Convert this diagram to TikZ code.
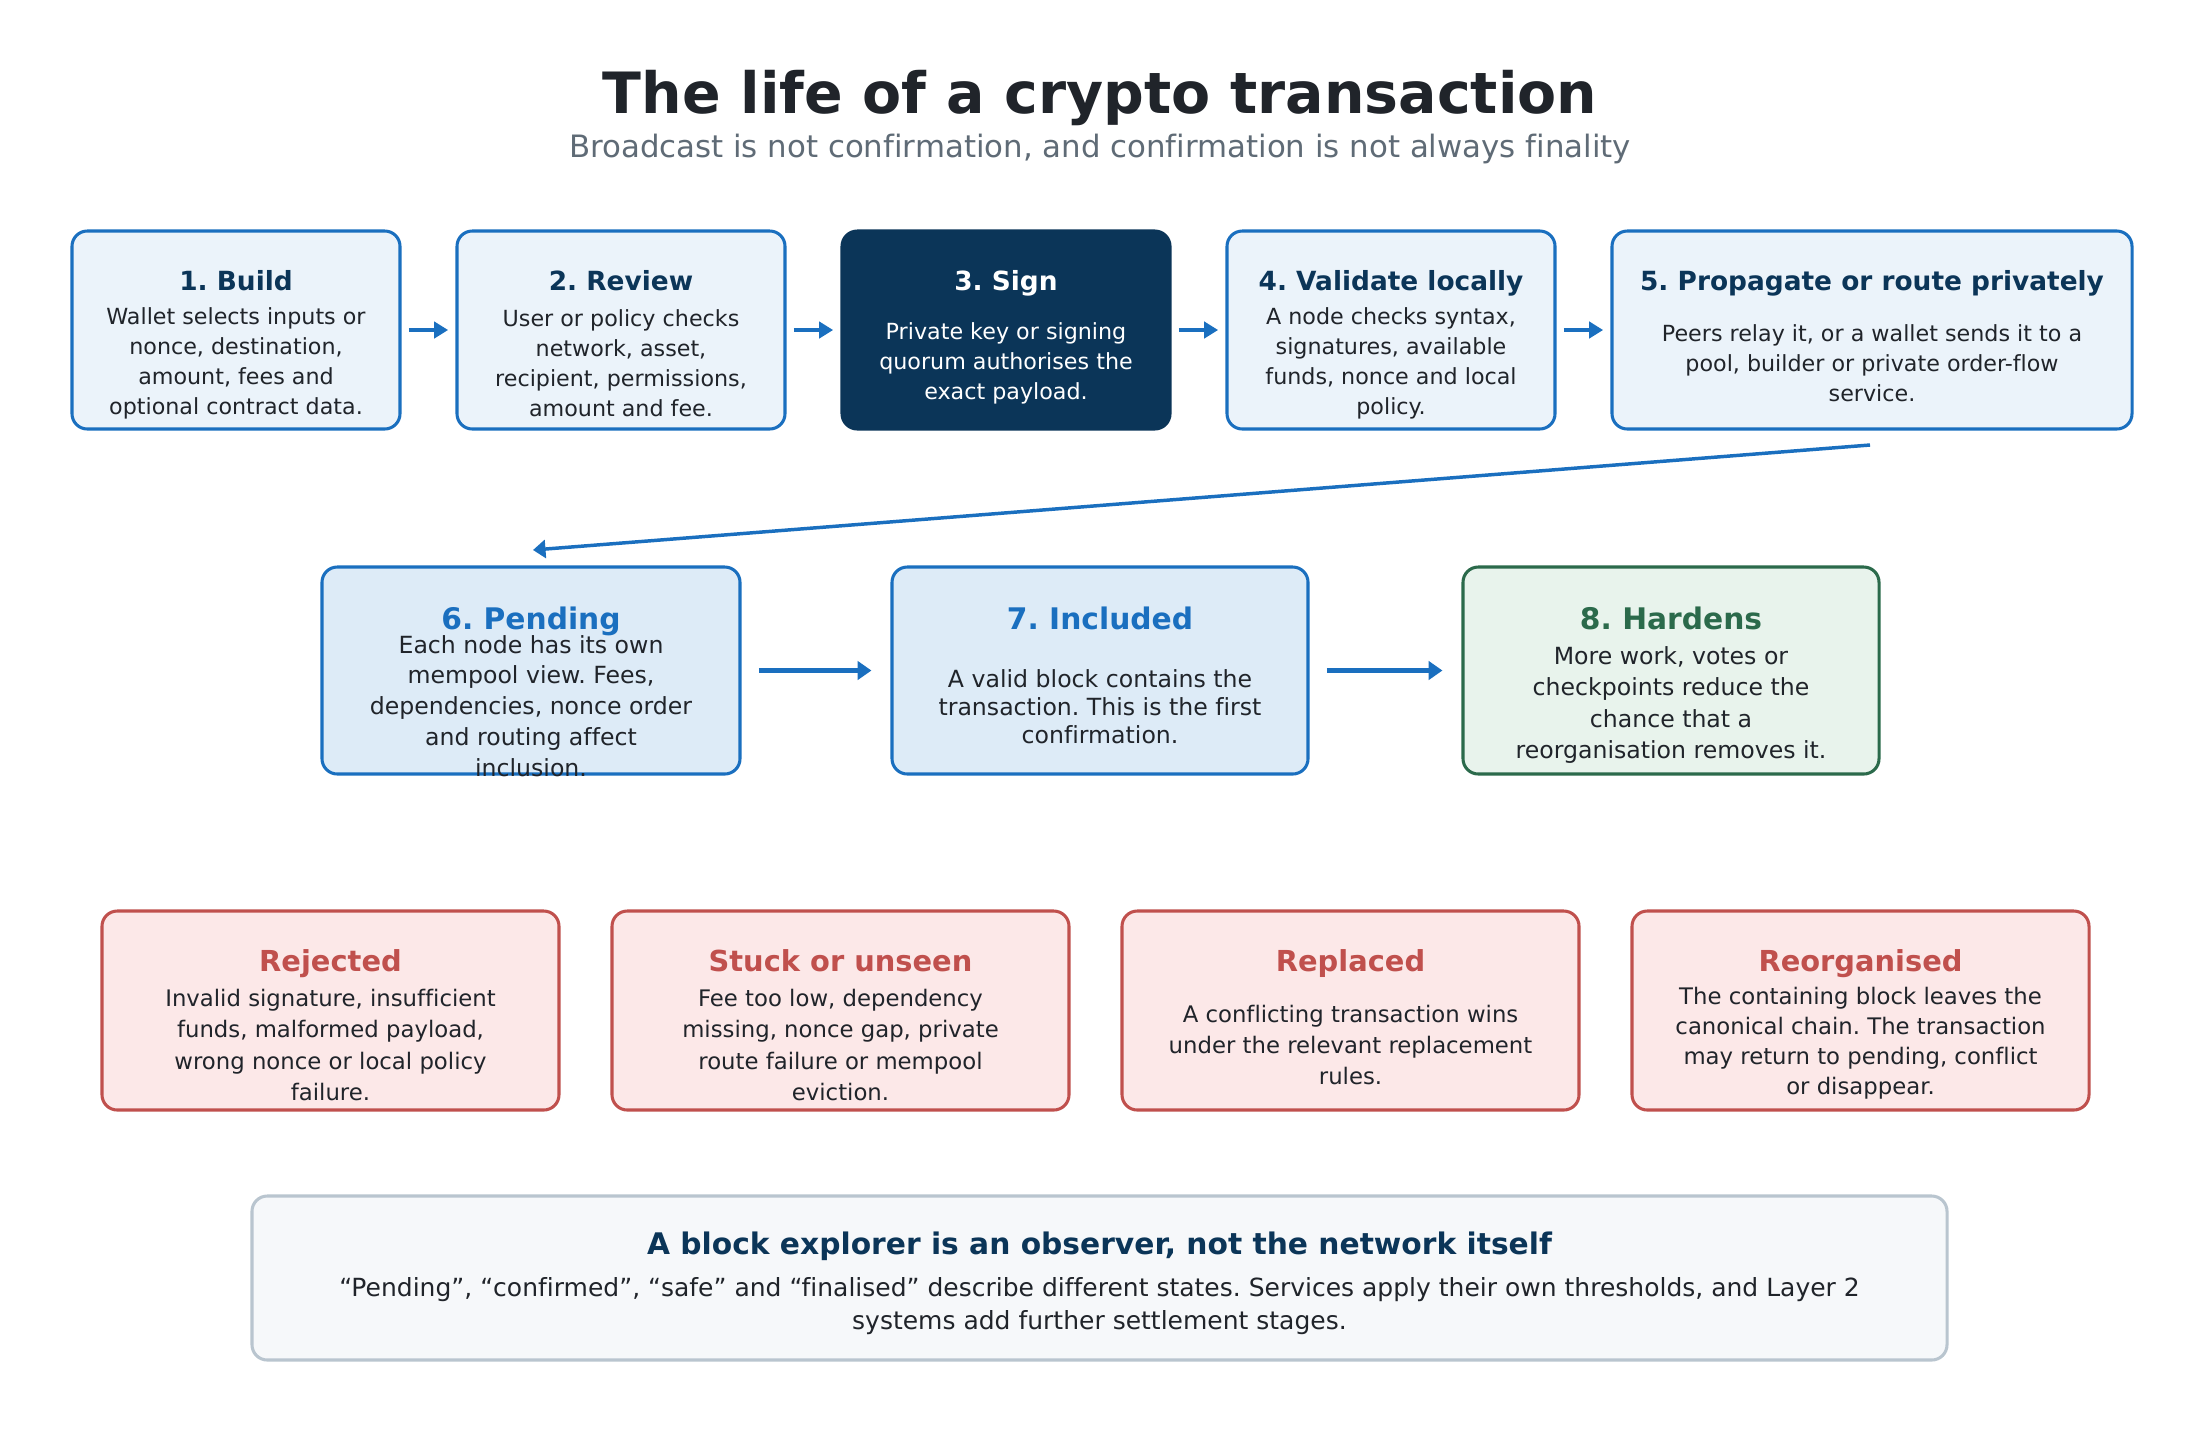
\documentclass[tikz,border=0pt]{standalone}
\usepackage{fontspec}
\setmainfont{DejaVu Sans}[Ligatures=NoCommon]
\usetikzlibrary{arrows.meta,calc}
\definecolor{navy}{HTML}{0B3558}
\definecolor{blueln}{HTML}{1A6FBF}
\definecolor{fillA}{HTML}{EBF3FA}
\definecolor{fillB}{HTML}{DDEBF7}
\definecolor{greenln}{HTML}{2B6A4B}
\definecolor{fillG}{HTML}{E8F3EC}
\definecolor{redln}{HTML}{C0504D}
\definecolor{fillR}{HTML}{FCE8E8}
\definecolor{fillN}{HTML}{F6F8FA}
\definecolor{greyln}{HTML}{B9C5CF}
\definecolor{ink}{HTML}{20242A}
\definecolor{subink}{HTML}{5F6B76}
\frenchspacing
\begin{document}
\frenchspacing
\begin{tikzpicture}[x=0.36pt,y=-0.36pt,
  pxsize/.style 2 args={minimum width=#1*0.36pt, minimum height=#2*0.36pt},
  boxbase/.style={rectangle, rounded corners=5.5pt, line width=1.1pt, inner sep=0pt, outer sep=0pt},
  stageA/.style={boxbase, draw=blueln, fill=fillA},
  stageS/.style={boxbase, draw=navy, fill=navy},
  stageB/.style={boxbase, draw=blueln, fill=fillB},
  stageG/.style={boxbase, draw=greenln, fill=fillG},
  failbox/.style={boxbase, draw=redln, fill=fillR},
  notebox/.style={boxbase, draw=greyln, fill=fillN},
  ttlA/.style={anchor=base, text=navy, font=\fontsize{9.5pt}{11pt}\selectfont\bfseries\frenchspacing},
  ttlB/.style={anchor=base, text=blueln, font=\fontsize{10.7pt}{12pt}\selectfont\bfseries\frenchspacing},
  ttlR/.style={anchor=base, text=redln, font=\fontsize{10.4pt}{12pt}\selectfont\bfseries\frenchspacing},
  bodyA/.style={align=center, text=ink, inner sep=0pt, font=\fontsize{8pt}{10.8pt}\selectfont\frenchspacing},
  bodyB/.style={align=center, text=ink, inner sep=0pt, font=\fontsize{8.5pt}{11.1pt}\selectfont\frenchspacing},
  bodyR/.style={align=center, text=ink, inner sep=0pt, font=\fontsize{8.2pt}{11.3pt}\selectfont\frenchspacing},
  arrA/.style={draw=blueln, line width=1.45pt, -{Triangle[length=5pt,width=5.8pt]}},
  arrB/.style={draw=blueln, line width=1.65pt, -{Triangle[length=5pt,width=6.6pt]}},
  arrD/.style={draw=blueln, line width=1.25pt, -{Triangle[length=4.5pt,width=6.5pt]}}
]
\useasboundingbox[fill=white] (0,0) rectangle (2200,1430);

% title
\node[anchor=base, text=ink, font=\fontsize{20.5pt}{24pt}\selectfont\bfseries] (title) at (1100,113) {The life of a crypto transaction};
\node[anchor=base, text=subink, font=\fontsize{11.1pt}{13pt}\selectfont] (subtitle) at (1100,157) {Broadcast is not confirmation, and confirmation is not always finality};

% row 1
\node[stageA, pxsize={328}{198}] (b1) at (236,330) {};
\node[stageA, pxsize={328}{198}] (b2) at (621,330) {};
\node[stageS, pxsize={328}{198}] (b3) at (1006,330) {};
\node[stageA, pxsize={328}{198}] (b4) at (1391,330) {};
\node[stageA, pxsize={520}{198}] (b5) at (1872,330) {};

\node[ttlA] (t1) at (236,290.5) {1. Build};
\node[ttlA] (t2) at (621,290.5) {2. Review};
\node[ttlA, text=white] (t3) at (1006,290.5) {3. Sign};
\node[ttlA] (t4) at (1391,290.5) {4. Validate locally};
\node[ttlA] (t5) at (1872,290.5) {5. Propagate or route privately};

\node[bodyA] (x1) at (236,363) {Wallet selects inputs or\\nonce, destination,\\amount, fees and\\optional contract data.};
\node[bodyA] (x2) at (621,363) {User or policy checks\\network, asset,\\recipient, permissions,\\amount and fee.};
\node[bodyA, text=white] (x3) at (1006,363) {Private key or signing\\quorum authorises the\\exact payload.};
\node[bodyA] (x4) at (1391,363) {A node checks syntax,\\signatures, available\\funds, nonce and local\\policy.};
\node[bodyA] (x5) at (1872,363) {Peers relay it, or a wallet sends it to a\\pool, builder or private order-flow\\service.};

\draw[arrA, shorten <=3.2pt, shorten >=3.2pt] (b1.east) -- (b2.west);
\draw[arrA, shorten <=3.2pt, shorten >=3.2pt] (b2.east) -- (b3.west);
\draw[arrA, shorten <=3.2pt, shorten >=3.2pt] (b3.east) -- (b4.west);
\draw[arrA, shorten <=3.2pt, shorten >=3.2pt] (b4.east) -- (b5.west);

% row 2
\node[stageB, pxsize={418}{207}] (b6) at (531,670.5) {};
\node[stageB, pxsize={416}{207}] (b7) at (1100,670.5) {};
\node[stageG, pxsize={416}{207}] (b8) at (1671,670.5) {};

\node[ttlB] (t6) at (531,629) {6. Pending};
\node[ttlB] (t7) at (1100,629) {7. Included};
\node[ttlB, text=greenln] (t8) at (1671,629) {8. Hardens};

\node[bodyB] (x6) at (531,706) {Each node has its own\\mempool view. Fees,\\dependencies, nonce order\\and routing affect\\inclusion.};
\node[bodyB, font=\fontsize{8.5pt}{10.1pt}\selectfont\frenchspacing] (x7) at (1100,707) {A valid block contains the\\transaction. This is the first\\confirmation.};
\node[bodyB, font=\fontsize{8.5pt}{11.3pt}\selectfont\frenchspacing] (x8) at (1671,705) {More work, votes or\\checkpoints reduce the\\chance that a\\reorganisation removes it.};

\coordinate (d1) at ($(b5.south)+(-2,16)$);
\coordinate (d2) at ($(b6.north)+(2,-17)$);
\draw[arrD] (d1) -- (d2);

\draw[arrB, shorten <=6.8pt, shorten >=7.4pt] (b6.east) -- (b7.west);
\draw[arrB, shorten <=6.8pt, shorten >=7.4pt] (b7.east) -- (b8.west);

% row 3: failure states
\node[failbox, pxsize={457}{199}] (r1) at (330.5,1010.5) {};
\node[failbox, pxsize={457}{199}] (r2) at (840.5,1010.5) {};
\node[failbox, pxsize={457}{199}] (r3) at (1350.5,1010.5) {};
\node[failbox, pxsize={457}{199}] (r4) at (1860.5,1010.5) {};

\node[ttlR] (tr1) at (330.5,971.5) {Rejected};
\node[ttlR] (tr2) at (840.5,971.5) {Stuck or unseen};
\node[ttlR] (tr3) at (1350.5,971.5) {Replaced};
\node[ttlR] (tr4) at (1860.5,971.5) {Reorganised};

\node[bodyR] (xr1) at (330.5,1045) {Invalid signature, insufficient\\funds, malformed payload,\\wrong nonce or local policy\\failure.};
\node[bodyR] (xr2) at (840.5,1045) {Fee too low, dependency\\missing, nonce gap, private\\route failure or mempool\\eviction.};
\node[bodyR] (xr3) at (1350.5,1045) {A conflicting transaction wins\\under the relevant replacement\\rules.};
\node[bodyR, font=\fontsize{8.2pt}{10.8pt}\selectfont\frenchspacing] (xr4) at (1860.5,1043) {The containing block leaves the\\canonical chain. The transaction\\may return to pending, conflict\\or disappear.};

% bottom note
\node[notebox, pxsize={1695}{164}] (nb) at (1099.5,1278) {};
\node[anchor=base, text=navy, font=\fontsize{10.7pt}{12pt}\selectfont\bfseries] (nt) at (1099.5,1254) {A block explorer is an observer, not the network itself};
\node[align=center, text=ink, inner sep=0pt, font=\fontsize{9pt}{11.9pt}\selectfont\frenchspacing] (nx) at (1099.5,1306) {“Pending”, “confirmed”, “safe” and “finalised” describe different states. Services apply their own thresholds, and Layer 2\\systems add further settlement stages.};
\end{tikzpicture}
\end{document}
